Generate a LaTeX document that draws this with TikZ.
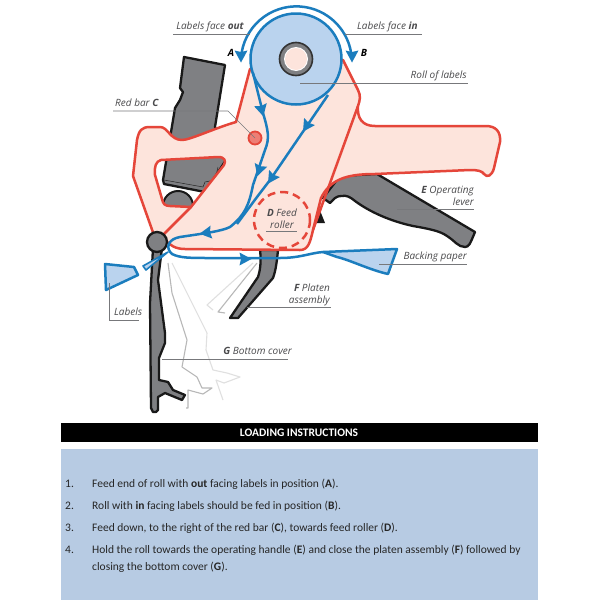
\documentclass[tikz,border=0pt]{standalone}
\usepackage{fontspec}
\setmainfont{Carlito}
\newfontfamily\lblfont{Open Sans}
\definecolor{redline}{HTML}{E5463A}
\definecolor{pinkfill}{HTML}{FDE4DC}
\definecolor{flowblue}{HTML}{1B7DBE}
\definecolor{rollblue}{HTML}{BAD3EE}
\definecolor{panelblue}{HTML}{B7CBE3}
\definecolor{levergray}{HTML}{7F8083}
\definecolor{leader}{HTML}{77787B}
\definecolor{lbltext}{HTML}{4A4A4C}
\tikzset{
 x=1pt,y=-1pt,
 redstroke/.style={draw=redline,line width=2.5pt,line join=round},
 darkpart/.style={draw=black!90,fill=levergray,line width=2.3pt,line join=round},
 flowline/.style={draw=flowblue,line width=2.5pt,line join=round},
 leaderline/.style={draw=leader,line width=0.6pt},
 lbl/.style={font=\lblfont\itshape\fontsize{10}{12}\selectfont,text=lbltext,inner sep=0pt,align=center},
 letter/.style={font=\lblfont\itshape\bfseries\fontsize{10}{11}\selectfont,text=black,inner sep=0pt},
 ghostdark/.style={draw=black!28,line width=1.1pt,line join=round},
 ghostlight/.style={draw=black!12,line width=1.1pt,line join=round},
 instr/.style={font=\fontsize{11.5}{17}\selectfont,text=black!85,inner sep=0pt,anchor=base west},
 flowtip/.pic={\fill[flowblue] (5.5,0) -- (-6.5,-6.5) -- (-5,0) -- (-6.5,6.5) -- cycle;}
}
\begin{document}
\begin{tikzpicture}
\useasboundingbox (0,0) rectangle (600,600);
\fill[white] (0,0) rectangle (600,600);
% panels
\fill[panelblue] (61,449) rectangle (538,600);
\fill[black] (61,423) rectangle (538,442);
\node[font=\bfseries\fontsize{11.5}{12}\selectfont,text=white,inner sep=0pt] (head) at (299,433) {LOADING INSTRUCTIONS};
% bar C
\draw[darkpart] (184,57) -- (225,65) -- (215,127) -- (226,160) -- (205,192) -- (164,184)
  -- (163,180) -- (175,108) -- (180,100) -- (183,92) -- (180,88) -- cycle;
\draw[black!85,line width=0.5pt] (164,180) -- (203,187) -- (205,182) -- (215,180) -- (218,167);
\fill[levergray,draw=black!90,line width=2pt] (178,206) circle (15);
% lever E
\draw[darkpart] (323,198) -- (330,203) .. controls (334,199) and (336,196) .. (341,196)
  .. controls (347,195) and (350,197) .. (355,201)
  .. controls (370,212) and (390,221) .. (413,226)
  .. controls (430,229) and (440,231) .. (447,236)
  .. controls (455,241) and (458,247) .. (465,247)
  .. controls (469,247) and (470,244) .. (475,232)
  -- (377,174) -- (340,176) -- cycle;
\fill[black!90] (319,208) -- (325,223) -- (312,223) -- cycle;
% platen
\draw[darkpart] (260,250) .. controls (261,258) and (261,268) .. (258,277) -- (230,318) -- (238,318)
  -- (273,278) .. controls (276,270) and (277,260) .. (278,250) -- cycle;
\draw[ghostdark] (257,263) -- (218,312) -- (225,313);
\draw[ghostlight] (253,263) -- (207,305) -- (213,310);
% pink body with window
\path[fill=pinkfill,even odd rule,redstroke]
 (343,60) -- (358,90) .. controls (361,96) and (360,100) .. (358,106)
 .. controls (357,118) and (362,126) .. (375,126)
 -- (486,126) .. controls (496,126) and (501,132) .. (500,142)
 -- (494,168) .. controls (492,176) and (487,178) .. (484,174) .. controls (482,171) and (478,170) .. (470,170)
 -- (375,174) .. controls (345,174) and (330,180) .. (321,198)
 -- (313,230) .. controls (310,243) and (308,250) .. (300,250)
 -- (185,249) .. controls (175,249) and (170,245) .. (165,240)
 -- (155,238) -- (133,176) -- (137,140) .. controls (139,130) and (142,127) .. (150,127)
 -- (160,127) .. controls (168,127) and (170,140) .. (182,140)
 .. controls (190,140) and (215,128) .. (236,122) -- (250,69) -- cycle
 (161,160) -- (218,157) .. controls (225,157) and (226,161) .. (224,165)
 -- (191,207) -- (170,206) .. controls (165,206) and (163,204) .. (162,199)
 -- (155,175) .. controls (154,167) and (156,161) .. (161,160) -- cycle;
\draw[redstroke] (358,106) -- (313,230);
\draw[redstroke] (191,207) -- (162,236);
\draw[redline,line width=2.5pt,dash pattern=on 8pt off 5pt] (282,220) circle (28);
\draw[redline,fill=redline!70,line width=1.8pt] (255,138) circle (6.5);
% bottom cover
\draw[ghostdark] (168,263) -- (172,293) -- (187,340) -- (182,367) -- (197,377) -- (202,388) -- (212,388) -- (203,394) -- (188,390) -- (188,408) -- (186,408);
\draw[ghostlight] (172,263) -- (207,333) -- (206,350) -- (213,370) -- (227,373) -- (240,377) -- (224,383) -- (216,380) -- (223,400);
\draw[darkpart] (153,248) -- (162,248) -- (158,280) -- (165,333) -- (165,343) -- (159,358) -- (159,380)
  -- (168,382) -- (173,390) -- (185,395) -- (182,400) -- (165,393) -- (158,397) -- (158,410)
  -- (156,412) -- (153,412) -- (151,408) -- (150,303) -- cycle;
\draw[darkpart] (157,242) circle (10);
% roll
\draw[flowline,fill=rollblue] (296,59) circle (45.5);
\draw[black!80,fill=levergray,line width=1.6pt] (296,59) circle (16.5);
\fill[white] (296,59) circle (12);
\fill[pinkfill] (296,59) circle (11);
% flows
\draw[flowline] (241,58) arc[start angle=184,end angle=356,radius=55.5];
\pic[rotate=-90] at (241,57) {flowtip};
\pic[rotate=-90] at (352,57) {flowtip};
\draw[flowline] (253,73) -- (263,113) .. controls (268,130) and (270,138) .. (265,150)
  -- (253,185) .. controls (249,205) and (245,215) .. (230,227)
  .. controls (222,231) and (207,233) .. (180,237) .. controls (168,239) and (165,248) .. (172,254)
  .. controls (180,258) and (190,258) .. (210,258) -- (280,258) .. controls (300,258) and (310,253) .. (323,252);
\draw[flowline] (328,95) -- (270,180) -- (257,197) -- (237,224);
\pic[rotate=-76] at (262,111) {flowtip};
\pic[rotate=-123] at (306,127) {flowtip};
\pic[rotate=-107] at (259,171) {flowtip};
\pic[rotate=-123] at (271,179) {flowtip};
\pic[rotate=188] at (205,233) {flowtip};
\pic[rotate=0] at (246,259) {flowtip};
% backing paper
\path[flowline,fill=rollblue] (323,252) -- (397,249) -- (388,274)
  .. controls (370,270) and (350,260) .. (337,257) -- (323,252) -- cycle;
% labels wedge
\path[flowline,fill=rollblue] (105,264) -- (134,267) -- (138,275) -- (106,290) -- cycle;
\path[flowline,fill=rollblue,line width=1.6pt] (143,266) -- (168,252) -- (146,270) -- cycle;
% leaders
\coordinate (la) at (173,34); \coordinate (lb) at (250,34);
\draw[leaderline] (la) -- (lb);
\coordinate (lc) at (345,34); \coordinate (ld) at (422,34);
\draw[leaderline] (lc) -- (ld);
\coordinate (le) at (300,83); \coordinate (lf) at (468,83);
\draw[leaderline] (le) -- (lf);
\coordinate (lg) at (113,111); \coordinate (lh) at (228,111); \coordinate (li) at (255,138);
\draw[leaderline] (lg) -- (lh) -- (li);
\coordinate (lj) at (266,231); \coordinate (lk) at (297,231);
\draw[leaderline] (lj) -- (lk);
\coordinate (ll) at (397,209); \coordinate (lm) at (474,209);
\draw[leaderline] (ll) -- (lm);
\coordinate (ln) at (379,264); \coordinate (lo) at (467,264);
\draw[leaderline] (ln) -- (lo);
\coordinate (lp) at (247,307); \coordinate (lq) at (331,307);
\draw[leaderline] (lp) -- (lq);
\coordinate (lr) at (109,283); \coordinate (ls) at (109,320); \coordinate (lt) at (139,320);
\draw[leaderline] (lr) -- (ls) -- (lt);
\coordinate (lu) at (162,359); \coordinate (lv) at (288,359);
\draw[leaderline] (lu) -- (lv);
% labels
\node[lbl,anchor=base east] (tout) at (244,29) {Labels face {\bfseries out}};
\node[lbl,anchor=base west] (tin) at (357,29) {Labels face {\bfseries in}};
\node[letter] (ta) at (231,53) {A};
\node[letter] (tb) at (364,53) {B};
\node[lbl,anchor=base east] (troll) at (467,78) {Roll of labels};
\node[lbl,anchor=base west] (tc) at (115,106) {Red bar {\bfseries C}};
\node[lbl,anchor=base] (td1) at (282,216) {{\bfseries D} Feed};
\node[lbl,anchor=base] (td2) at (282,228) {roller};
\node[lbl,anchor=base east] (te1) at (474,193) {{\bfseries E} Operating};
\node[lbl,anchor=base east] (te2) at (474,205) {lever};
\node[lbl,anchor=base east] (tbp) at (467,259) {Backing paper};
\node[lbl,anchor=base east] (tf1) at (330,291) {{\bfseries F} Platen};
\node[lbl,anchor=base east] (tf2) at (330,303) {assembly};
\node[lbl,anchor=base west] (tl) at (114,315) {Labels};
\node[lbl,anchor=base east] (tg) at (292,354) {{\bfseries G} Bottom cover};
% instructions
\node[instr] (n1) at (65,487) {1.};
\node[instr] (s1) at (92,487) {Feed end of roll with \textbf{out} facing labels in position (\textbf{A}).};
\node[instr] (n2) at (65,509) {2.};
\node[instr] (s2) at (92,509) {Roll with \textbf{in} facing labels should be fed in position (\textbf{B}).};
\node[instr] (n3) at (65,531) {3.};
\node[instr] (s3) at (92,531) {Feed down, to the right of the red bar (\textbf{C}), towards feed roller (\textbf{D}).};
\node[instr] (n4) at (65,553) {4.};
\node[instr] (s4) at (92,553) {Hold the roll towards the operating handle (\textbf{E}) and close the platen assembly (\textbf{F}) followed by};
\node[instr] (s5) at (92,570) {closing the bottom cover (\textbf{G}).};
\end{tikzpicture}
\end{document}
